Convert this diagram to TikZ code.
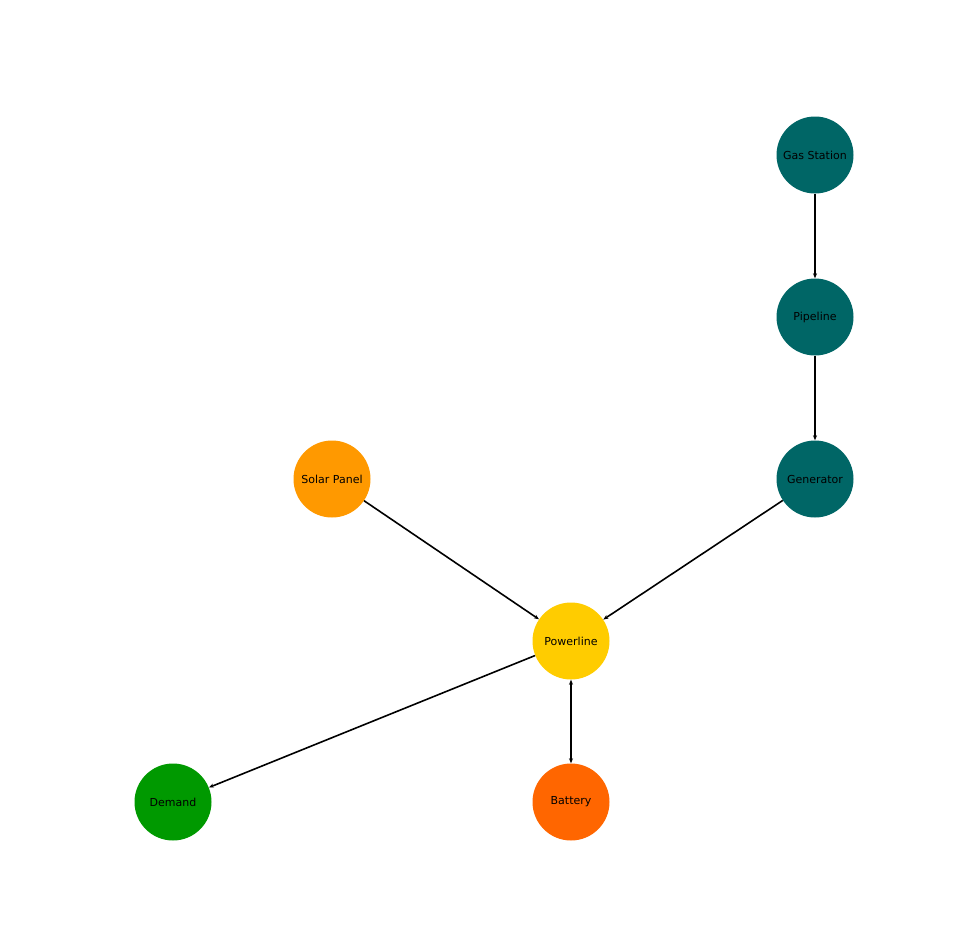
\documentclass[tikz,border=0pt]{standalone}
\usepackage{fontspec}
\setmainfont{DejaVu Sans}
\usetikzlibrary{arrows.meta}
\begin{document}
\begin{tikzpicture}[x=1pt,y=-1pt,
  nd/.style={circle,minimum size=77pt,inner sep=0pt,font=\fontsize{11}{13}\selectfont},
  ed/.style={line width=1.6pt,-{Stealth[length=5pt,width=4pt]}}]
\useasboundingbox (0,0) rectangle (956,948);
\node[nd,fill={rgb,255:red,0;green,102;blue,102}] (gas) at (815,155) {Gas Station};
\node[nd,fill={rgb,255:red,0;green,102;blue,102}] (pipe) at (815,317) {Pipeline};
\node[nd,fill={rgb,255:red,0;green,102;blue,102}] (gen) at (815,479) {Generator};
\node[nd,fill={rgb,255:red,255;green,153;blue,0}] (solar) at (332,479) {Solar Panel};
\node[nd,fill={rgb,255:red,255;green,204;blue,0}] (pow) at (571,641) {Powerline};
\node[nd,fill={rgb,255:red,0;green,153;blue,0}] (dem) at (173,802) {Demand};
\node[nd,fill={rgb,255:red,255;green,102;blue,0}] (bat) at (571,802) {Battery};
\draw[ed] (gas) -- (pipe);
\draw[ed] (pipe) -- (gen);
\draw[ed] (gen) -- (pow);
\draw[ed] (solar) -- (pow);
\draw[ed] (pow) -- (dem);
\draw[ed,{Stealth[length=5pt,width=4pt]}-{Stealth[length=5pt,width=4pt]}] (pow) -- (bat);
\end{tikzpicture}
\end{document}
